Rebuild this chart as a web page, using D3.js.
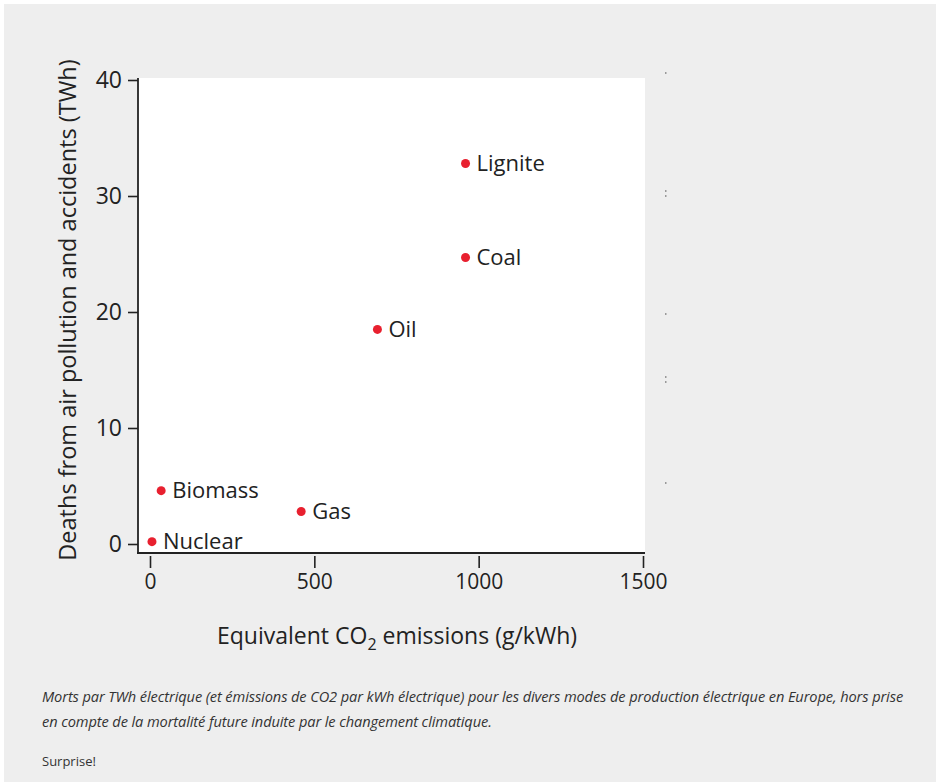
<!DOCTYPE html>
<html><head><meta charset="utf-8">
<script src="https://cdn.jsdelivr.net/npm/d3@7"></script>
<style>
html,body{margin:0;padding:0;background:#fff;}
svg{display:block;}
</style></head>
<body>
<svg id="c" width="936" height="782"></svg>
<script>
const sources = ["Lignite","Coal","Oil","Gas","Biomass","Nuclear"];
const co2 = [960, 960, 692, 460, 34, 6];
const deaths = [32.8, 24.7, 18.5, 2.8, 4.6, 0.2];
const xTicks = [0, 500, 1000, 1500];
const yTicks = [0, 10, 20, 30, 40];
const captionLines = [
  "Morts par TWh électrique (et émissions de CO2 par kWh électrique) pour les divers modes de production électrique en Europe, hors prise",
  "en compte de la mortalité future induite par le changement climatique."
];
const footer = "Surprise!";

const svg = d3.select("#c");
svg.append("rect").attr("x",4).attr("y",4).attr("width",932).attr("height",778).attr("fill","#eeeeee");

const x = d3.scaleLinear().domain([0,1500]).range([150,643]);
const y = d3.scaleLinear().domain([0,40]).range([544,80]);

// plot area
svg.append("rect").attr("x",138).attr("y",78).attr("width",507).attr("height",475).attr("fill","#fff");

const font = "'Open Sans', 'Noto Sans', sans-serif";
const ink = "#222";

// y axis
const yAx = svg.append("g").attr("transform","translate(138,0)")
  .call(d3.axisLeft(y).tickValues(yTicks).tickSize(10).tickPadding(6).tickFormat(d3.format("d")));
yAx.select(".domain").attr("d","M0,78V553");
yAx.selectAll("line").attr("stroke",ink).attr("stroke-width",1.6);
yAx.select(".domain").attr("stroke",ink).attr("stroke-width",1.8);
yAx.selectAll("text").attr("font-family",font).attr("font-size",23).attr("fill",ink);

// x axis
svg.append("line").attr("x1",137).attr("x2",645).attr("y1",553).attr("y2",553).attr("stroke",ink).attr("stroke-width",1.8);
const xAx = svg.append("g").attr("transform","translate(0,556)")
  .call(d3.axisBottom(x).tickValues(xTicks).tickSize(12).tickPadding(6).tickFormat(d3.format("d")));
xAx.select(".domain").remove();
xAx.selectAll("line").attr("stroke",ink).attr("stroke-width",1.6);
xAx.selectAll("text").attr("font-family",font).attr("font-size",21).attr("fill",ink);

// points
const pts = svg.append("g");
sources.forEach((s,i)=>{
  pts.append("circle").attr("cx",x(co2[i])).attr("cy",y(deaths[i])).attr("r",4.5).attr("fill","#e8202f");
  pts.append("text").attr("x",x(co2[i])+11).attr("y",y(deaths[i])).attr("dy","0.35em")
    .attr("font-family",font).attr("font-size",22).attr("fill",ink).text(s);
});

// axis titles
svg.append("text").attr("transform","translate(76,310) rotate(-90)").attr("text-anchor","middle")
  .attr("font-family",font).attr("font-size",23.5).attr("fill",ink)
  .text("Deaths from air pollution and accidents (TWh)");
const xt = svg.append("text").attr("x",397).attr("y",644).attr("text-anchor","middle")
  .attr("font-family",font).attr("font-size",23).attr("fill",ink);
xt.append("tspan").text("Equivalent CO");
xt.append("tspan").attr("dy",6).attr("font-size",16).text("2");
xt.append("tspan").attr("dy",-6).text(" emissions (g/kWh)");

// stray marks at right
[[72,1],[190,1],[195,1],[313,1],[376,1],[381,1],[482,1]].forEach(m=>{
  svg.append("rect").attr("x",665).attr("y",m[0]).attr("width",1.5).attr("height",2).attr("fill","#999");
});

// caption
const cap = svg.append("g").attr("font-family",font).attr("font-size",14.6).attr("fill","#333");
captionLines.forEach((t,i)=>{
  cap.append("text").attr("x",42).attr("y",702+i*25).attr("font-style","italic").attr("letter-spacing",-0.1).text(t);
});
cap.append("text").attr("x",42).attr("y",766).attr("font-size",13).text(footer);
</script>
</body></html>
